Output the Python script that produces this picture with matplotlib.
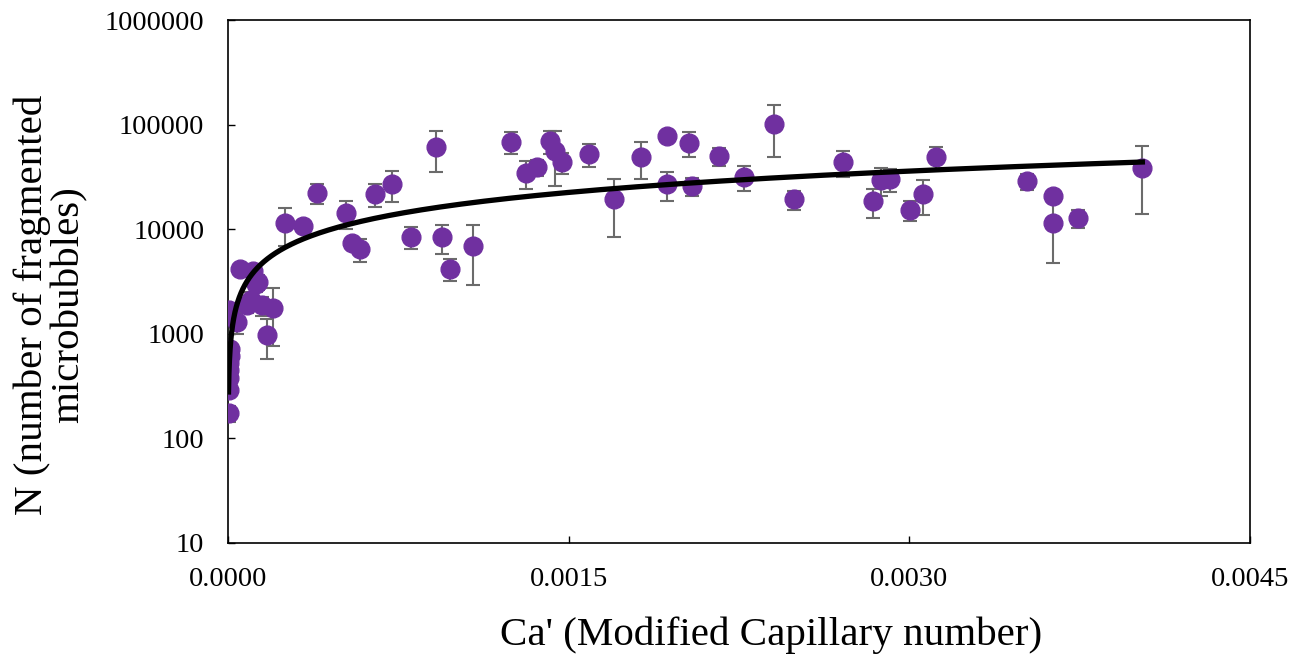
import numpy as np
import matplotlib
matplotlib.use("Agg")
import matplotlib.pyplot as plt
from matplotlib.ticker import FixedLocator, FuncFormatter, NullLocator

plt.rcParams["font.family"] = ["Liberation Serif", "DejaVu Serif"]

# Ca' values (modified capillary number)
ca = [0.0000023, 0.000003, 0.000004, 0.000005, 0.000006, 0.000007, 0.000008,
      0.000003, 0.00004, 0.000053, 0.000084, 0.000101, 0.00011, 0.000123,
      0.000132, 0.00015, 0.000172, 0.000198,
      0.000251, 0.000330, 0.000392, 0.000519, 0.000546, 0.000581, 0.000647,
      0.000722, 0.000805, 0.000915, 0.000941, 0.000977, 0.001078, 0.001245,
      0.001311, 0.001359, 0.001417, 0.001439, 0.001469, 0.001588, 0.001698,
      0.001817, 0.001931, 0.001931, 0.002028, 0.002041, 0.002160, 0.002270,
      0.002406, 0.002494, 0.002706, 0.002838, 0.002877, 0.002917, 0.003005,
      0.003062, 0.003119, 0.003520, 0.003634, 0.003634, 0.003744, 0.004026]

# N (number of fragmented microbubbles)
n_frag = [175, 290, 380, 450, 530, 620, 720,
          1690, 1300, 4170, 1890, 2100, 4000, 3000,
          3130, 1870, 975, 1760,
          11450, 10740, 22200, 14300, 7380, 6460, 21700,
          27000, 8420, 61100, 8420, 4170, 6900, 68200,
          34400, 39300, 69700, 56000, 43900, 52400, 19400,
          49000, 77800, 27000, 66700, 25900, 50100, 31500,
          101000, 19400, 43900, 18600, 29500, 30200, 15300,
          21700, 49000, 28900, 20700, 11500, 12800, 38500]

# error (symmetric, linear units)
n_err = [30, 40, 50, 60, 80, 80, 100,
         0, 300, 0, 300, 400, 600, 500,
         500, 400, 400, 1000,
         4500, 600, 4800, 4300, 800, 1600, 5400,
         9000, 2000, 26000, 2600, 1000, 4000, 16000,
         10000, 7000, 17000, 30000, 10000, 13000, 11000,
         19000, 0, 8400, 18000, 5000, 10000, 8500,
         52000, 4000, 12000, 5800, 8800, 7500, 3300,
         8000, 12000, 5000, 0, 6700, 2500, 24500]

x_ticks = [0.0, 0.0015, 0.0030, 0.0045]
y_ticks = [10, 100, 1000, 10000, 100000, 1000000]

ca_arr = np.array(ca)
n_arr = np.array(n_frag)

# power-law trendline fitted in log-log space
b, log_a = np.polyfit(np.log(ca_arr), np.log(n_arr), 1)
x_fit = np.geomspace(ca_arr.min(), ca_arr.max(), 400)
y_fit = np.exp(log_a) * x_fit ** b

fig = plt.figure(figsize=(13, 6.59), dpi=100)
ax = fig.add_axes([228 / 1300, 1 - 543 / 659, 1022 / 1300, 523 / 659])

ax.errorbar(ca, n_frag, yerr=n_err, fmt="none", ecolor="#6b6b6b",
            elinewidth=1.5, capsize=5, capthick=1.5, zorder=2)
ax.plot(ca, n_frag, "o", color="#7030A0", markersize=13.5, zorder=3)
ax.plot(x_fit, y_fit, color="black", linewidth=3.8, zorder=4)

ax.set_yscale("log")
ax.set_xlim(0, 0.0045)
ax.set_ylim(10, 1000000)
ax.xaxis.set_major_locator(FixedLocator(x_ticks))
ax.xaxis.set_major_formatter(FuncFormatter(lambda v, p: f"{v:.4f}"))
ax.yaxis.set_major_locator(FixedLocator(y_ticks))
ax.yaxis.set_major_formatter(FuncFormatter(lambda v, p: f"{int(round(v))}"))
ax.yaxis.set_minor_locator(NullLocator())
ax.tick_params(direction="in", length=5, width=1, labelsize=20.5, pad=17)

for s in ax.spines.values():
    s.set_linewidth(1.2)

ax.set_xlabel("Ca' (Modified Capillary number)", fontsize=29.5)
ax.xaxis.set_label_coords(0.531, -0.14)
ax.set_ylabel("N (number of fragmented\nmicrobubbles)", fontsize=29.5,
              linespacing=1.0)
ax.yaxis.set_label_coords(-0.137, 0.455)

fig.savefig("out.png", dpi=100)
